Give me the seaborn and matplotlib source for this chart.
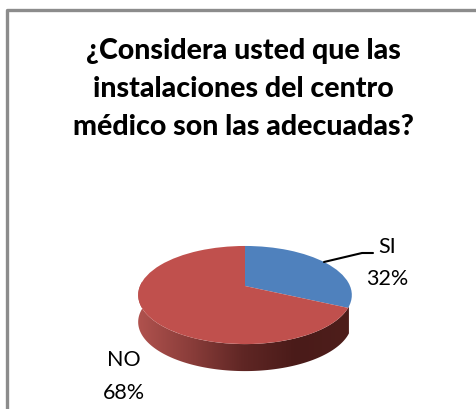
import numpy as np
import matplotlib
matplotlib.use("Agg")
import matplotlib.pyplot as plt
from matplotlib.transforms import Transform
from matplotlib.colors import LinearSegmentedColormap
import seaborn as sns

title_lines = ["¿Considera usted que las", "instalaciones del centro", "médico son las adecuadas?"]
categories = ["SI", "NO"]
shares = [32, 68]
slice_colors = ["#4f81bd", "#c0504d"]
wall_colors = ["#b0524e", "#8a3d3a", "#5f2624", "#4a1b19", "#4e1e1b"]

sns.set_theme(style="white")
plt.rcParams["font.family"] = ["Lato", "DejaVu Sans"]

W, H = 476, 410
CX, CY = 245, 287      # apex of the slices, in pixels
A, B, K = 105, 47.4, 0.184
DEPTH = 27


class TiltedDisc(Transform):
    """Projects the unit disc of a pie onto a receding plane, in pixel coordinates."""
    input_dims = output_dims = 2

    def transform_non_affine(self, values):
        v = np.asarray(values, dtype=float)
        w = 1 + K * v[:, 1]
        return np.column_stack([CX + A * v[:, 0] / w, CY - B * v[:, 1] / w])


disc = TiltedDisc()

fig = plt.figure(figsize=(W / 100, H / 100), dpi=100, facecolor="white")
ax = fig.add_axes([0, 0, 1, 1])

wedges, _ = ax.pie(shares, colors=slice_colors, startangle=90, counterclock=False,
                   radius=1, center=(0, 0), wedgeprops={"linewidth": 0})
ax.set_aspect("auto")
ax.axis("off")
for wedge in wedges:
    wedge.set_transform(disc + ax.transData)
    wedge.set_zorder(3)

# Side wall of the disc: the visible lower rim, shaded from left to right
split = np.deg2rad(90 - 360 * shares[0] / sum(shares))
theta = np.linspace(np.pi * 0.97, 2 * np.pi + split + 0.03, 400)
rim = disc.transform_non_affine(np.column_stack([np.cos(theta), np.sin(theta)]))
wall = np.vstack([rim, (rim + [0, DEPTH])[::-1]])
wall_patch = plt.Polygon(wall, closed=True, facecolor="none", edgecolor="none")
ax.add_patch(wall_patch)
wall_cmap = LinearSegmentedColormap.from_list("wall", wall_colors)
gradient = ax.imshow(np.linspace(0, 1, 256)[None, :], cmap=wall_cmap, aspect="auto",
                     extent=(rim[:, 0].min(), rim[:, 0].max(), 375, 280), zorder=2)
gradient.set_clip_path(wall_patch)
ax.set_xlim(0, W)
ax.set_ylim(H, 0)

# Chart frame
ax.plot([6.5, 6.5, W], [H, 10.5, 10.5], color="#8c8c8c", lw=2.4, solid_capstyle="butt", zorder=1)

for line, y in zip(title_lines, [51, 89, 127]):
    ax.text(243, y, line, ha="center", va="center", fontsize=20.5, fontweight=900, color="black")

ax.text(387, 247, categories[0], ha="center", va="center", fontsize=15.5, color="black")
ax.text(387, 279, f"{shares[0]}%", ha="center", va="center", fontsize=15.5, color="black")
ax.text(124, 360, categories[1], ha="center", va="center", fontsize=15.5, color="black")
ax.text(124, 393, f"{shares[1]}%", ha="center", va="center", fontsize=15.5, color="black")

# Leader line for the SI label
ax.plot([324, 362, 373], [263, 254, 254], color="black", lw=1.5, zorder=4)

fig.savefig("out.png", dpi=100, facecolor="white")
